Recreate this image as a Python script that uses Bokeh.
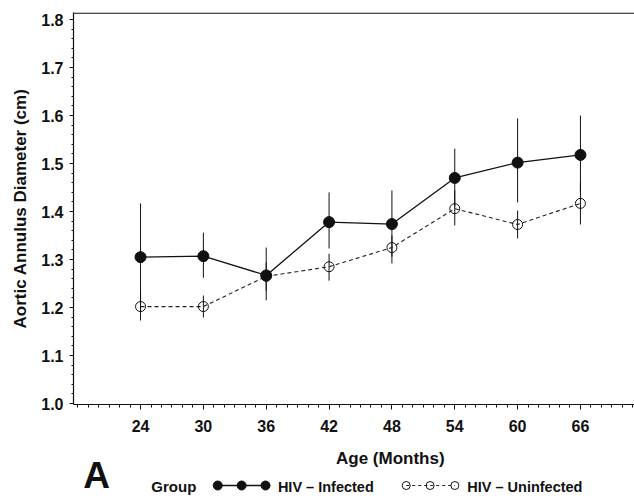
from bokeh.plotting import figure
from bokeh.models import Range1d, FixedTicker, Span, ColumnDataSource, NumeralTickFormatter
from bokeh.layouts import column
from bokeh.embed import file_html
from bokeh.resources import INLINE
from bokeh.core.properties import value

# ---- data ----
months = [24, 30, 36, 42, 48, 54, 60, 66]
inf_mean = [1.305, 1.307, 1.267, 1.378, 1.374, 1.470, 1.502, 1.518]
inf_upper = [1.417, 1.356, 1.325, 1.440, 1.444, 1.531, 1.594, 1.600]
inf_lower = [1.193, 1.262, 1.215, 1.323, 1.306, 1.410, 1.419, 1.440]
unf_mean = [1.202, 1.202, 1.265, 1.285, 1.325, 1.406, 1.373, 1.417]
unf_upper = [1.235, 1.225, 1.294, 1.312, 1.350, 1.444, 1.402, 1.460]
unf_lower = [1.173, 1.179, 1.235, 1.256, 1.292, 1.371, 1.344, 1.373]

x_ticks = [24, 30, 36, 42, 48, 54, 60, 66]
x_minor = list(range(18, 72))
y_ticks = [1.0, 1.1, 1.2, 1.3, 1.4, 1.5, 1.6, 1.7, 1.8]
y_minor = [round(1.0 + 0.02 * i, 2) for i in range(41)]

x_label = "Age (Months)"
y_label = "Aortic Annulus Diameter (cm)"
group_title = "Group"
series_names = ["HIV \u2013 Infected", "HIV \u2013 Uninfected"]
panel_letter = "A"

SANS = "Liberation Sans"
INK = "#111111"

src_inf = ColumnDataSource(dict(x=months, y=inf_mean, lo=inf_lower, hi=inf_upper))
src_unf = ColumnDataSource(dict(x=months, y=unf_mean, lo=unf_lower, hi=unf_upper))

p = figure(width=634, height=442, output_backend="svg", toolbar_location=None,
           x_range=Range1d(17.6, 71.16), y_range=Range1d(0.998, 1.8147),
           min_border_left=73, min_border_right=0, min_border_top=12,
           min_border_bottom=38)
p.outline_line_color = None
p.grid.visible = False
p.background_fill_color = "white"
p.border_fill_color = "white"

# error bars
p.segment(x0="x", y0="lo", x1="x", y1="hi", source=src_unf, line_color=INK, line_width=1)
p.segment(x0="x", y0="lo", x1="x", y1="hi", source=src_inf, line_color=INK, line_width=1)

# lines
p.line("x", "y", source=src_unf, line_color="#222222", line_width=1.1, line_dash="4 3")
p.line("x", "y", source=src_inf, line_color=INK, line_width=1.3)

# markers
p.scatter("x", "y", source=src_unf, marker="circle", size=10,
          fill_color=None, line_color=INK, line_width=1)
p.scatter("x", "y", source=src_inf, marker="circle", size=11,
          fill_color=INK, line_color=INK)

# top border
p.add_layout(Span(location=1.8135, dimension="width", line_color=INK, line_width=1.2))

# axes
for ax in (p.xaxis[0], p.yaxis[0]):
    ax.axis_line_color = INK
    ax.axis_line_width = 1.2
    ax.major_tick_line_color = INK
    ax.minor_tick_line_color = INK
    ax.major_tick_in = 0
    ax.minor_tick_in = 0
    ax.major_label_text_font = SANS
    ax.major_label_text_font_style = "bold"
    ax.major_label_text_font_size = "16px"
    ax.major_label_text_color = INK
    ax.axis_label_text_font = SANS
    ax.axis_label_text_font_style = "bold"
    ax.axis_label_text_font_size = "17px"
    ax.axis_label_text_color = INK

p.xaxis.ticker = FixedTicker(ticks=x_ticks, minor_ticks=x_minor)
p.xaxis.major_tick_out = 5
p.xaxis.minor_tick_out = 3
p.xaxis.major_label_standoff = 10

p.yaxis.ticker = FixedTicker(ticks=y_ticks, minor_ticks=y_minor)
p.yaxis.formatter = NumeralTickFormatter(format="0.0")
p.yaxis.major_tick_out = 4
p.yaxis.minor_tick_out = 2
p.yaxis.major_label_standoff = 6
p.yaxis.axis_label = y_label
p.yaxis.axis_label_standoff = 8

# ---- bottom strip: x-axis title, panel letter and legend ----
H = 58
q = figure(width=634, height=H, output_backend="svg", toolbar_location=None,
           x_range=Range1d(0, 634), y_range=Range1d(0, H),
           x_axis_type=None, y_axis_type=None,
           min_border=0, min_border_left=0, min_border_right=0,
           min_border_top=0, min_border_bottom=0)
q.outline_line_color = None
q.grid.visible = False
q.background_fill_color = "white"
q.border_fill_color = "white"

def txt(x, y, s, size, align="left"):
    q.text(x=[x], y=[y], text=[s], text_font=value(SANS), text_font_style="bold",
           text_font_size=size, text_color=INK, text_align=align,
           text_baseline="middle")

txt(358, 42, x_label, "17px", "center")
txt(11, 24.6, panel_letter, "37px")
txt(88, 14, group_title, "15px")

leg_y = 15
q.line([163, 217], [leg_y, leg_y], line_color=INK, line_width=1.3)
q.scatter([163, 190, 217], [leg_y] * 3, marker="circle", size=9, fill_color=INK, line_color=INK)
txt(231, 14, series_names[0], "14.5px")

q.line([376, 431], [leg_y, leg_y], line_color="#222222", line_width=1, line_dash="3 3")
q.scatter([376, 403, 431], [leg_y] * 3, marker="circle", size=8, fill_color=None,
          line_color=INK, line_width=1)
txt(445, 14, series_names[1], "14.5px")

layout = column(p, q, spacing=0)
open("out.html", "w").write(file_html(layout, INLINE))
